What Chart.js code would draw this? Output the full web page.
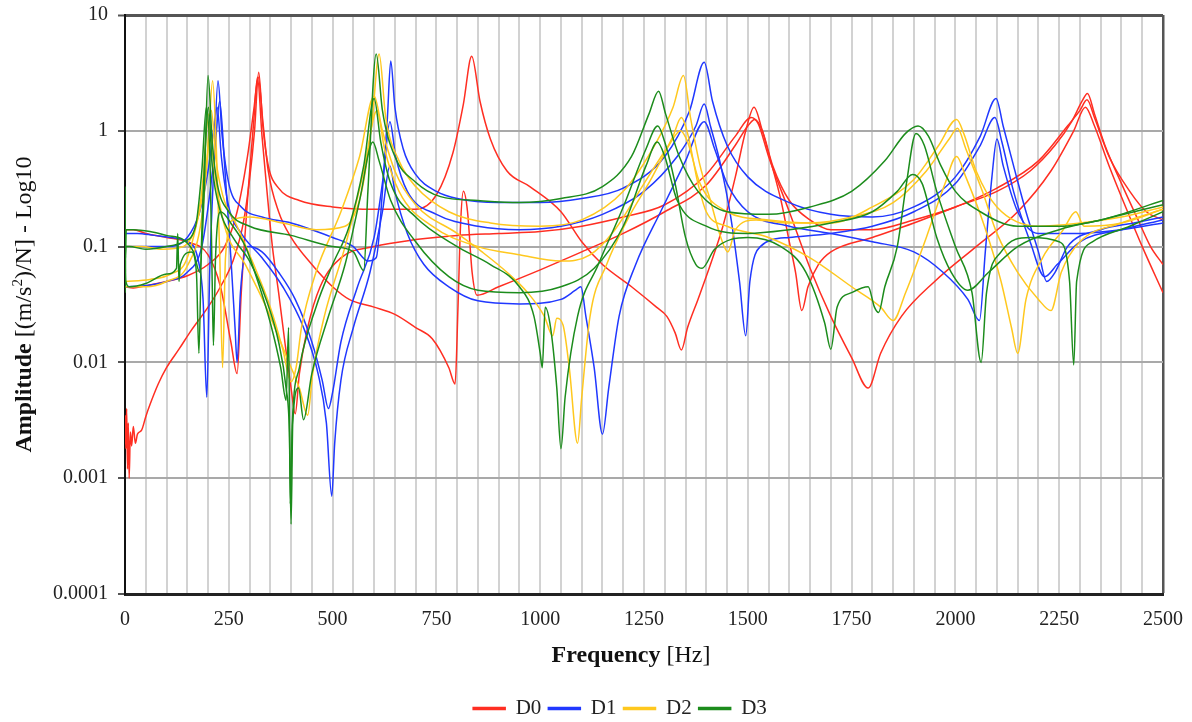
<!DOCTYPE html>
<html><head><meta charset="utf-8">
<script src="https://cdn.jsdelivr.net/npm/chart.js@4.4.1/dist/chart.umd.min.js"></script>
<style>html,body{margin:0;padding:0;background:#fff;}#wrap{width:1192px;height:722px;}</style>
</head><body><div id="wrap"><canvas id="c" width="1192" height="722"></canvas></div>
<script>
// ---------- axis ticks ----------
const xTickLabels = ['0','250','500','750','1000','1250','1500','1750','2000','2250','2500'];
const yTickValues = [0.0001,0.001,0.01,0.1,1,10];
const yTickLabels = ['0.0001','0.001','0.01','0.1','1','10'];
const groupNames = ['D0','D1','D2','D3'];
const xTitleBold = 'Frequency', xTitleRest = ' [Hz]';
const yTitleBold = 'Amplitude', yTitleA = ' [(m/s', yTitleSup = '2', yTitleB = ')/N] - Log10';

// ---------- series: [frequency Hz, amplitude] ----------
const d0a = [[0,0.0035],[2,0.0018],[4,0.004],[6,0.0012],[8,0.003],[10,0.001],[13,0.0025],[16,0.0019],[20,0.0028],[25,0.002],[30,0.0024],[40,0.0026],[50,0.0034],[60,0.0043],[80,0.0065],[100,0.009],[130,0.013],[160,0.019],[200,0.03],[230,0.045],[260,0.075],[285,0.16],[300,0.38],[312,1.0],[322,3.2],[332,1.1],[345,0.5],[370,0.32],[420,0.25],[500,0.22],[600,0.21],[700,0.21],[750,0.28],[790,0.65],[815,1.7],[835,4.4],[855,1.8],[880,0.85],[920,0.45],[975,0.33],[1050,0.2],[1100,0.11],[1150,0.07],[1220,0.045],[1280,0.03],[1305,0.025],[1325,0.018],[1340,0.0128],[1355,0.02],[1380,0.035],[1410,0.07],[1440,0.15],[1470,0.4],[1495,1.0],[1515,1.6],[1535,1.0],[1555,0.55],[1580,0.25],[1600,0.11],[1615,0.06],[1630,0.028],[1645,0.045],[1670,0.07],[1700,0.09],[1800,0.12],[1900,0.16],[2000,0.22],[2100,0.3],[2180,0.45],[2240,0.75],[2280,1.2],[2305,1.8],[2318,2.1],[2335,1.4],[2360,0.75],[2400,0.35],[2440,0.17],[2470,0.1],[2500,0.07]];
const d0b = [[0,0.14],[20,0.14],[50,0.13],[100,0.12],[150,0.11],[200,0.085],[230,0.045],[255,0.015],[270,0.008],[280,0.04],[298,0.35],[310,1.2],[319,2.9],[330,0.9],[342,0.3],[355,0.1],[370,0.04],[385,0.015],[400,0.006],[410,0.0036],[420,0.008],[440,0.02],[470,0.045],[520,0.08],[600,0.1],[700,0.115],[800,0.125],[900,0.13],[1000,0.135],[1100,0.15],[1200,0.18],[1300,0.23],[1400,0.42],[1470,0.9],[1508,1.3],[1525,1.15],[1550,0.6],[1600,0.2],[1650,0.065],[1700,0.025],[1750,0.011],[1790,0.006],[1820,0.012],[1870,0.025],[1950,0.05],[2050,0.1],[2150,0.2],[2230,0.45],[2285,1.0],[2313,1.6],[2335,1.1],[2370,0.5],[2410,0.22],[2450,0.1],[2500,0.04]];
const d0c = [[0,0.045],[20,0.044],[50,0.046],[100,0.05],[150,0.056],[200,0.07],[240,0.1],[270,0.2],[295,0.6],[310,1.5],[321,2.9],[332,1.2],[345,0.45],[370,0.2],[400,0.12],[450,0.07],[500,0.045],[540,0.035],[600,0.03],[650,0.026],[700,0.02],[740,0.016],[780,0.009],[795,0.0065],[802,0.03],[808,0.15],[815,0.3],[825,0.2],[836,0.06],[848,0.038],[900,0.045],[1000,0.063],[1100,0.09],[1200,0.13],[1300,0.2],[1400,0.34],[1470,0.75],[1500,1.1],[1517,1.25],[1535,1.0],[1560,0.5],[1600,0.25],[1650,0.17],[1700,0.14],[1800,0.14],[1900,0.17],[2000,0.22],[2100,0.32],[2200,0.55],[2270,1.1],[2300,1.5],[2317,1.85],[2335,1.3],[2370,0.6],[2420,0.3],[2460,0.2],[2500,0.17]];

const d1a = [[0,0.13],[30,0.13],[70,0.125],[110,0.12],[150,0.11],[175,0.08],[188,0.035],[197,0.005],[204,0.06],[214,0.5],[224,2.7],[234,0.9],[250,0.35],[280,0.22],[330,0.18],[400,0.16],[450,0.14],[500,0.12],[550,0.1],[585,0.075],[605,0.08],[620,0.3],[632,1.3],[640,4.0],[650,1.6],[670,0.7],[700,0.42],[750,0.3],[800,0.26],[900,0.24],[1000,0.24],[1100,0.26],[1200,0.32],[1300,0.6],[1360,1.5],[1395,3.9],[1415,1.8],[1450,0.75],[1500,0.4],[1600,0.24],[1700,0.19],[1800,0.18],[1900,0.22],[2000,0.4],[2060,0.9],[2098,1.9],[2115,1.1],[2140,0.5],[2170,0.2],[2200,0.09],[2220,0.05],[2240,0.06],[2270,0.1],[2350,0.14],[2430,0.16],[2500,0.18]];
const d1b = [[0,0.045],[50,0.046],[100,0.05],[150,0.06],[185,0.1],[205,0.3],[218,0.8],[228,1.8],[240,0.5],[255,0.08],[265,0.02],[270,0.01],[278,0.04],[295,0.1],[330,0.09],[370,0.06],[410,0.035],[450,0.015],[475,0.007],[490,0.004],[500,0.0055],[520,0.015],[560,0.045],[600,0.12],[622,0.4],[638,1.2],[652,0.6],[680,0.3],[750,0.19],[850,0.15],[950,0.14],[1050,0.15],[1150,0.19],[1250,0.3],[1330,0.6],[1375,1.1],[1395,1.7],[1410,1.1],[1435,0.5],[1460,0.17],[1480,0.05],[1495,0.017],[1505,0.05],[1530,0.1],[1600,0.12],[1700,0.13],[1800,0.15],[1900,0.2],[2000,0.35],[2060,0.75],[2095,1.3],[2112,0.8],[2140,0.3],[2180,0.11],[2215,0.055],[2245,0.07],[2300,0.11],[2400,0.14],[2500,0.17]];
const d1c = [[0,0.1],[50,0.1],[100,0.1],[150,0.12],[180,0.2],[200,0.45],[213,1.0],[222,1.6],[232,0.6],[250,0.22],[280,0.13],[330,0.08],[380,0.045],[430,0.02],[465,0.008],[485,0.003],[498,0.0007],[505,0.002],[520,0.007],[550,0.02],[590,0.06],[620,0.2],[638,0.5],[650,0.3],[680,0.13],[720,0.07],[780,0.045],[850,0.034],[950,0.032],[1050,0.035],[1085,0.042],[1098,0.045],[1110,0.025],[1130,0.009],[1150,0.0024],[1165,0.006],[1190,0.025],[1230,0.07],[1290,0.2],[1350,0.55],[1395,1.2],[1420,0.7],[1450,0.35],[1500,0.2],[1600,0.15],[1700,0.13],[1800,0.11],[1900,0.09],[1970,0.06],[2030,0.035],[2058,0.023],[2072,0.09],[2088,0.4],[2100,0.85],[2115,0.5],[2150,0.2],[2200,0.13],[2300,0.13],[2400,0.14],[2500,0.16]];

const d2a = [[0,0.045],[50,0.045],[100,0.05],[150,0.068],[185,0.18],[200,0.7],[211,2.7],[220,0.7],[228,0.09],[235,0.009],[242,0.08],[260,0.17],[300,0.18],[380,0.16],[460,0.14],[530,0.15],[570,0.3],[595,1.2],[612,4.6],[628,1.3],[660,0.55],[700,0.33],[780,0.2],[880,0.16],[1000,0.15],[1100,0.17],[1200,0.3],[1280,0.8],[1320,1.6],[1345,3.0],[1362,1.3],[1385,0.5],[1410,0.25],[1435,0.12],[1452,0.09],[1470,0.14],[1520,0.17],[1600,0.16],[1700,0.16],[1800,0.22],[1900,0.38],[1960,0.75],[2003,1.25],[2020,0.95],[2050,0.45],[2100,0.22],[2200,0.15],[2300,0.16],[2400,0.18],[2500,0.22]];
const d2b = [[0,0.1],[40,0.1],[90,0.095],[140,0.1],[175,0.17],[195,0.45],[208,1.5],[218,0.6],[235,0.28],[270,0.15],[310,0.07],[350,0.03],[380,0.013],[400,0.0068],[412,0.009],[425,0.02],[460,0.06],[520,0.2],[565,0.6],[600,2.0],[620,1.0],[650,0.45],[700,0.23],[800,0.13],[860,0.09],[920,0.06],[970,0.04],[1010,0.025],[1030,0.017],[1040,0.024],[1055,0.021],[1070,0.009],[1090,0.002],[1100,0.005],[1120,0.025],[1160,0.07],[1210,0.17],[1270,0.4],[1320,0.9],[1340,1.3],[1355,0.95],[1380,0.35],[1400,0.2],[1450,0.15],[1550,0.12],[1650,0.08],[1750,0.045],[1820,0.03],[1850,0.023],[1880,0.04],[1930,0.12],[1975,0.35],[2003,0.6],[2025,0.4],[2070,0.15],[2110,0.05],[2135,0.02],[2150,0.012],[2170,0.035],[2210,0.08],[2260,0.14],[2290,0.2],[2310,0.15],[2400,0.16],[2500,0.21]];
const d2c = [[0,0.05],[60,0.052],[110,0.058],[150,0.08],[185,0.3],[202,1.4],[214,0.5],[240,0.15],[290,0.07],[340,0.03],[390,0.011],[420,0.006],[440,0.0035],[452,0.008],[480,0.025],[530,0.1],[575,0.45],[607,1.5],[625,0.7],[660,0.3],[740,0.15],[850,0.1],[950,0.085],[1050,0.075],[1120,0.085],[1180,0.14],[1250,0.35],[1310,0.75],[1338,1.0],[1355,0.8],[1385,0.35],[1450,0.2],[1550,0.17],[1650,0.16],[1750,0.18],[1850,0.24],[1930,0.45],[1985,0.85],[2005,1.05],[2025,0.7],[2065,0.3],[2100,0.13],[2150,0.06],[2200,0.035],[2230,0.028],[2255,0.06],[2300,0.11],[2400,0.16],[2500,0.21]];

const d3a = [[0,0.33],[1,0.08],[3,0.14],[20,0.14],[60,0.135],[100,0.125],[140,0.115],[165,0.09],[180,0.06],[190,0.25],[200,3.0],[210,0.8],[222,0.35],[250,0.2],[300,0.15],[400,0.125],[500,0.1],[550,0.09],[575,0.062],[585,0.3],[605,4.6],[620,1.5],[650,0.6],[700,0.36],[760,0.27],[850,0.25],[950,0.24],[1050,0.26],[1150,0.33],[1220,0.6],[1262,1.4],[1285,2.2],[1302,1.4],[1335,0.6],[1380,0.3],[1450,0.2],[1550,0.19],[1650,0.22],[1750,0.3],[1830,0.55],[1880,0.95],[1910,1.1],[1935,0.9],[1965,0.5],[2000,0.3],[2060,0.2],[2150,0.15],[2250,0.15],[2350,0.17],[2500,0.25]];
const d3b = [[0,0.04],[2,0.1],[10,0.1],[50,0.095],[100,0.1],[140,0.11],[170,0.15],[185,0.45],[196,1.6],[205,0.5],[210,0.05],[213,0.014],[218,0.08],[230,0.2],[260,0.15],[290,0.1],[320,0.05],[350,0.022],[375,0.009],[388,0.0047],[394,0.02],[398,0.0006],[403,0.003],[420,0.009],[460,0.03],[500,0.07],[540,0.15],[575,0.5],[600,1.9],[616,0.8],[640,0.35],[700,0.18],[800,0.1],[880,0.07],[950,0.045],[985,0.025],[1000,0.012],[1005,0.009],[1012,0.03],[1025,0.02],[1040,0.006],[1050,0.0018],[1060,0.005],[1090,0.025],[1140,0.07],[1200,0.22],[1255,0.7],[1283,1.1],[1300,0.8],[1325,0.35],[1350,0.12],[1375,0.07],[1390,0.065],[1420,0.095],[1500,0.12],[1580,0.1],[1640,0.06],[1685,0.022],[1700,0.013],[1715,0.03],[1750,0.04],[1790,0.045],[1805,0.03],[1815,0.027],[1830,0.045],[1860,0.1],[1882,0.35],[1905,0.95],[1925,0.75],[1955,0.3],[2000,0.1],[2040,0.04],[2062,0.01],[2075,0.04],[2110,0.09],[2180,0.12],[2250,0.11],[2275,0.05],[2285,0.0095],[2292,0.05],[2330,0.11],[2420,0.15],[2500,0.2]];
const d3c = [[0,0.1],[2,0.05],[10,0.045],[50,0.048],[100,0.058],[124,0.065],[127,0.13],[130,0.05],[133,0.07],[160,0.09],[172,0.06],[178,0.012],[184,0.1],[194,0.8],[201,1.6],[210,0.5],[230,0.2],[260,0.12],[300,0.075],[340,0.035],[370,0.015],[388,0.006],[396,0.0025],[400,0.0004],[404,0.003],[418,0.006],[430,0.0032],[450,0.008],[490,0.025],[530,0.07],[565,0.25],[597,0.8],[612,0.55],[640,0.25],[700,0.11],[780,0.055],[850,0.042],[950,0.04],[1050,0.045],[1130,0.065],[1200,0.15],[1255,0.5],[1282,0.8],[1300,0.6],[1330,0.25],[1400,0.15],[1500,0.13],[1600,0.14],[1700,0.16],[1800,0.2],[1860,0.3],[1897,0.42],[1920,0.35],[1955,0.12],[1990,0.06],[2030,0.042],[2080,0.06],[2150,0.1],[2250,0.14],[2350,0.17],[2500,0.23]];

// ---------- assembly ----------
const groupColors = ['#ff2e22','#2038ff','#ffc81e','#1c8c1c'];
const groupCurves = [[d0a,d0b,d0c],[d1a,d1b,d1c],[d2a,d2b,d2c],[d3a,d3b,d3c]];
const datasets = [];
groupCurves.forEach((curves,g)=>{
  curves.forEach((curve,k)=>{
    datasets.push({
      label: groupNames[g],
      inLegend: k===0,
      data: curve.map(p=>({x:p[0],y:p[1]})),
      borderColor: groupColors[g],
      backgroundColor: groupColors[g],
      borderWidth: 1.5,
      pointRadius: 0,
      cubicInterpolationMode: 'monotone',
      order: 4-g
    });
  });
});

const SERIF = '"Liberation Serif","Times New Roman",serif';
const PLOT = {left:125, top:15, right:1163, bottom:594};

const titlesPlugin = {
  id:'titlesPlugin',
  afterLayout(chart){
    const lg = chart.legend;
    if(!lg) return;
    const dx = 620 - (lg.left+lg.right)/2;
    lg.left += dx; lg.right += dx;
    const dy = 7;
    lg.top += dy; lg.bottom += dy;
  },
  afterDraw(chart){
    const ctx = chart.ctx;
    ctx.save();
    ctx.fillStyle = '#111';
    ctx.textBaseline = 'alphabetic';
    // x title
    const fb = 'bold 24px '+SERIF, fr = '24px '+SERIF;
    ctx.font = fb; const w1 = ctx.measureText(xTitleBold).width;
    ctx.font = fr; const w2 = ctx.measureText(xTitleRest).width;
    let x0 = 631 - (w1+w2)/2;
    ctx.font = fb; ctx.fillText(xTitleBold, x0, 662);
    ctx.font = fr; ctx.fillText(xTitleRest, x0+w1, 662);
    // y title (rotated)
    ctx.translate(31, (PLOT.top+PLOT.bottom)/2);
    ctx.rotate(-Math.PI/2);
    const fs = '15px '+SERIF;
    ctx.font = fb; const a = ctx.measureText(yTitleBold).width;
    ctx.font = fr; const b = ctx.measureText(yTitleA).width;
    ctx.font = fs; const c = ctx.measureText(yTitleSup).width;
    ctx.font = fr; const d = ctx.measureText(yTitleB).width;
    let s = -(a+b+c+d)/2;
    ctx.font = fb; ctx.fillText(yTitleBold, s, 0); s += a;
    ctx.font = fr; ctx.fillText(yTitleA, s, 0); s += b;
    ctx.font = fs; ctx.fillText(yTitleSup, s, -9); s += c;
    ctx.font = fr; ctx.fillText(yTitleB, s, 0);
    ctx.restore();
  }
};

new Chart(document.getElementById('c'), {
  type:'line',
  data:{datasets},
  options:{
    responsive:false,
    animation:false,
    parsing:true,
    layout:{padding:{left:0, top:PLOT.top, right:1192-PLOT.right, bottom:0}},
    plugins:{
      legend:{
        display:true, position:'bottom', fullSize:true,
        labels:{
          font:{family:SERIF, size:21}, color:'#222',
          boxWidth:32, boxHeight:2, padding:7,
          filter:(item,data)=>data.datasets[item.datasetIndex].inLegend,
          sort:(a,b)=>a.datasetIndex-b.datasetIndex
        }
      },
      tooltip:{enabled:false}
    },
    scales:{
      x:{
        type:'linear', min:0, max:2500,
        afterFit:(scale)=>{
          scale.height = 722 - PLOT.bottom - scale.chart.legend.height;
          scale.paddingLeft = 0; scale.paddingRight = 0;
        },
        ticks:{
          stepSize:50, autoSkip:false, maxRotation:0, padding:14,
          font:{family:SERIF, size:20}, color:'#222',
          callback:(v)=> (v%250===0 ? xTickLabels[v/250] : '')
        },
        grid:{
          drawTicks:false,
          color:(c)=> c.index===0 ? 'rgba(0,0,0,0)' : (c.tick && c.tick.value===2500 ? '#555' : '#d2d2d2'),
          lineWidth:(c)=> (c.tick && c.tick.value===2500) ? 2.5 : 2
        },
        border:{display:true, color:'#222', width:3}
      },
      y:{
        type:'logarithmic', min:0.0001, max:10,
        afterFit:(scale)=>{ scale.width = PLOT.left; scale.paddingTop = 0; scale.paddingBottom = 0; },
        afterBuildTicks:(scale)=>{ scale.ticks = yTickValues.map(v=>({value:v})); },
        ticks:{
          padding:10, font:{family:SERIF, size:20}, color:'#222',
          callback:(v,i)=> yTickLabels[i]
        },
        grid:{
          drawTicks:true, tickLength:7, tickColor:'#555', tickWidth:2,
          color:(c)=> c.tick && c.tick.value===10 ? '#555' : (c.tick && c.tick.value===0.0001 ? 'rgba(0,0,0,0)' : '#a9a9a9'),
          lineWidth:(c)=> c.tick && c.tick.value===10 ? 3 : 2
        },
        border:{display:true, color:'#111', width:2}
      }
    }
  },
  plugins:[titlesPlugin]
});
</script>
</body></html>
